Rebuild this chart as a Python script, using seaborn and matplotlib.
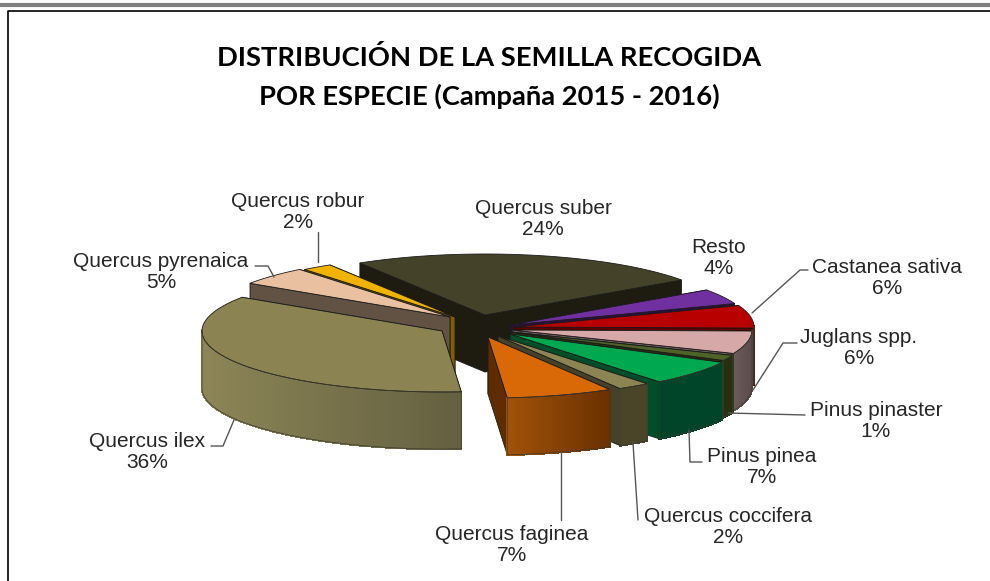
import numpy as np
import matplotlib
matplotlib.use('Agg')
import matplotlib.pyplot as plt
from matplotlib.colors import to_rgb
from matplotlib.collections import PolyCollection
import seaborn as sns

# datos de la grafica (porcentaje por especie, en sentido horario)
especies = ['Quercus robur', 'Quercus suber', 'Resto', 'Castanea sativa', 'Juglans spp.',
            'Pinus pinaster', 'Pinus pinea', 'Quercus coccifera', 'Quercus faginea',
            'Quercus ilex', 'Quercus pyrenaica']
porcentajes = [2.05, 24, 4, 6, 6, 1.45, 6.6, 2.2, 7.2, 35.6, 4.9]

# colores: cara superior, cara radial, lateral izq, lateral dcha
c_top = ['#efb300', '#45422a', '#7030a0', '#b80000', '#d6a9a8', '#4f6228', '#00a84f', '#8c8452', '#d96806', '#8b8351', '#eac1a0']
c_rad = ['#7f5f00', '#1e1c10', '#2c1040', '#5c0000', '#6b5a5a', '#26300f', '#004f28', '#45412a', '#5f2c00', '#6a6440', '#625244']
c_left = ['#8a6500', '#1e1c10', '#2c1040', '#5c0000', '#6b5a5a', '#26300f', '#00452a', '#4a4428', '#a05208', '#8c8557', '#625244']
c_right = ['#8a6500', '#1e1c10', '#2c1040', '#5c0000', '#5a4a4a', '#26300f', '#00452a', '#4a4428', '#6a3000', '#646040', '#625244']

# centro de cada porcion (despiece) en pixeles
apex_x = [455, 485, 510, 514, 512, 511, 510, 498, 488, 442, 450]
apex_y = [317, 315, 325, 327, 330, 332, 334, 336, 337, 331, 317]

RX, RY, H = 240, 61, 57
START = 128.8

# orden de dibujo, de atras hacia delante
orden = [1, 0, 10, 2, 3, 4, 5, 6, 7, 8, 9]

# posicion de etiquetas y lineas guia
lab_pos = [(298, 212), (543, 219), (719, 258), (887, 278), (859, 348), (876, 421), (762, 467), (728, 527), (512, 545), (147, 452), (161, 272)]
guias = [
    [(318, 232), (318, 262)],
    None,
    None,
    [(808, 270), (800, 270), (752, 313)],
    [(797, 343), (783, 343), (753, 390)],
    [(805, 415), (728, 413)],
    [(702, 462), (690, 462), (689, 430)],
    [(638, 520), (633, 443)],
    [(561, 520), (561, 452)],
    [(211, 446), (223, 446), (234, 420)],
    [(255, 266), (268, 266), (274, 277)],
]

sns.set_theme(style='white')
plt.rcParams['font.family'] = ['Liberation Sans', 'DejaVu Sans']

fig, ax = plt.subplots(figsize=(9.9, 5.81), dpi=100)
fig.subplots_adjust(0, 0, 1, 1)
ax.set_xlim(0, 990)
ax.set_ylim(581, 0)
ax.axis('off')

# marco
ax.plot([0, 990], [5, 5], color='#808080', lw=3, solid_capstyle='butt')
ax.plot([990, 7.5, 7.5], [10.5, 10.5, 581], color='black', lw=1.2)

# angulos a partir de los valores
frac = np.array(porcentajes) / sum(porcentajes) * 360
ini = START - np.concatenate([[0], np.cumsum(frac)[:-1]])
fin = ini - frac
EDGE = '#1a1a1a'

for i in orden:
    cx, cy = apex_x[i], apex_y[i]
    t = np.radians(np.linspace(ini[i], fin[i], 90))
    x = cx + RX * np.cos(t)
    y = cy - RY * np.sin(t)

    # caras radiales, la mas cercana al final
    caras = sorted([(x[0], y[0]), (x[-1], y[-1])], key=lambda p: p[1])
    for px, py in caras:
        ax.fill([cx, px, px, cx], [cy, py, py + H, cy + H], fc=c_rad[i], ec=EDGE, lw=0.6)

    # lateral curvo con degradado, solo la mitad de delante
    vis = np.sin(t) <= 0.02
    if vis.sum() > 1:
        xs, ys = x[vis], y[vis]
        polys, cols = [], []
        c0, c1 = np.array(to_rgb(c_left[i])), np.array(to_rgb(c_right[i]))
        for k in range(len(xs) - 1):
            polys.append([(xs[k], ys[k]), (xs[k + 1], ys[k + 1]), (xs[k + 1], ys[k + 1] + H), (xs[k], ys[k] + H)])
            f = ((xs[k] + xs[k + 1]) / 2 - xs.min()) / max(xs.max() - xs.min(), 1)
            cols.append(c0 + (c1 - c0) * f)
        ax.add_collection(PolyCollection(polys, facecolors=cols, edgecolors=cols, linewidths=1.0, antialiaseds=False))
        ox = np.concatenate([xs, xs[::-1], xs[:1]])
        oy = np.concatenate([ys + H, ys[::-1], ys[:1] + H])
        ax.plot(ox, oy, color='#3c3c30', lw=0.5)

    # cara superior
    ax.fill(np.r_[cx, x], np.r_[cy, y], fc=c_top[i], ec=EDGE, lw=0.6, joinstyle='miter')

# etiquetas
for i, nombre in enumerate(especies):
    ax.text(lab_pos[i][0], lab_pos[i][1], f'{nombre}\n{round(porcentajes[i])}%', ha='center', va='center',
            fontsize=15, color='#262626', linespacing=1.18)
    if guias[i]:
        gx, gy = zip(*guias[i])
        ax.plot(gx, gy, color='#555555', lw=1)

# titulo
ax.text(489, 77, 'DISTRIBUCIÓN DE LA SEMILLA RECOGIDA\nPOR ESPECIE (Campaña 2015 - 2016)', ha='center', va='center',
        fontsize=19.7, fontweight='bold', family=['Lato', 'DejaVu Sans'], color='black', linespacing=1.62)

fig.savefig('out.png', dpi=100)
